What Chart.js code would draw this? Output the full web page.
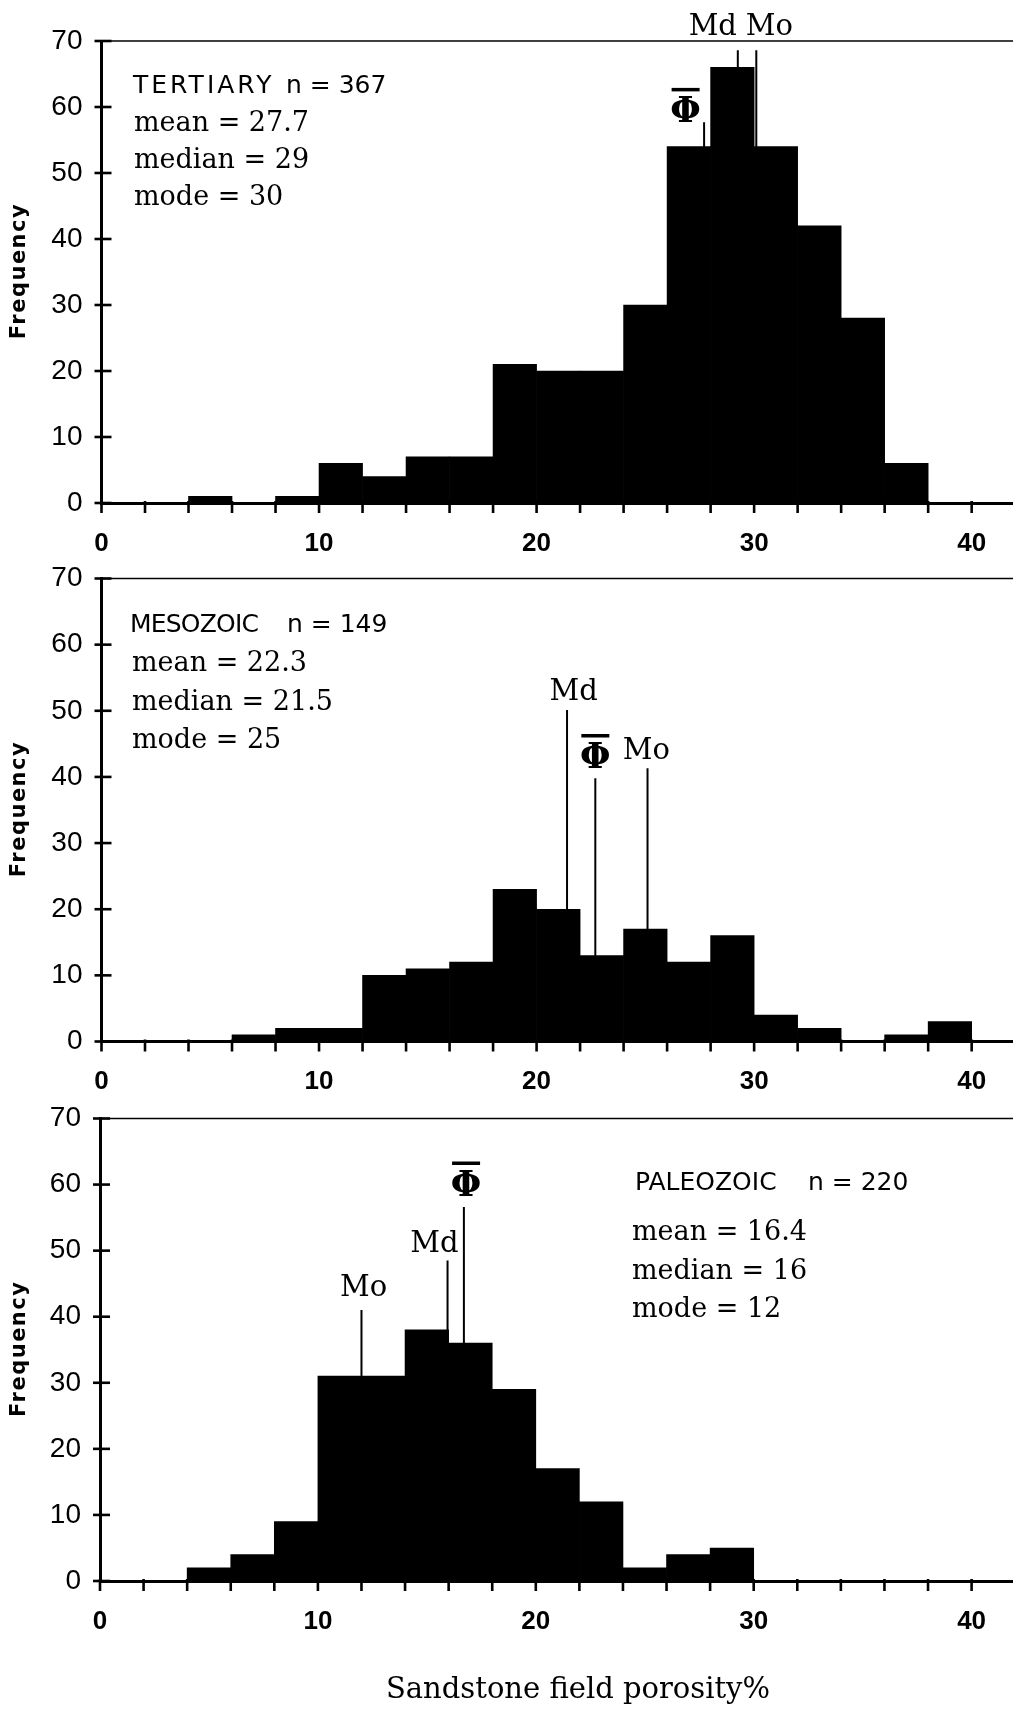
<!DOCTYPE html>
<html><head><meta charset="utf-8">
<script src="https://cdn.jsdelivr.net/npm/chart.js@4.4.1/dist/chart.umd.min.js"></script>
<style>
html,body{margin:0;padding:0;background:#fff;}
#wrap{position:relative;width:1013px;height:1712px;overflow:hidden;background:#fff;}
.pan{position:absolute;left:0;width:1013px;}
canvas{display:block;}
</style></head><body>
<div id="wrap">
<div class="pan" style="top:0;height:565px"><canvas id="c1" width="1013" height="565"></canvas></div>
<div class="pan" style="top:537px;height:563px"><canvas id="c2" width="1013" height="563"></canvas></div>
<div class="pan" style="top:1077px;height:635px"><canvas id="c3" width="1013" height="635"></canvas></div>
</div>
<script>
// ---- data ----
const binStarts = [0,2,4,6,8,10,12,14,16,18,20,22,24,26,28,30,32,34,36,38];
const binWidth = 2;
const tertiaryCounts  = [0,0,1,0,1,6,4,7,7,21,20,20,30,54,66,54,42,28,6,0];
const mesozoicCounts  = [0,0,0,1,2,2,10,11,12,23,20,13,17,12,16,4,2,0,1,3];
const paleozoicCounts = [0,0,2,4,9,31,31,38,36,29,17,12,2,4,5,0,0,0,0,0];
const xTickLabels = [0,10,20,30,40];
const yTickLabels = [0,10,20,30,40,50,60,70];

const tertiaryHeader = ['TERTIARY','n = 367'];
const tertiaryStats  = ['mean = 27.7','median = 29','mode = 30'];
const mesozoicHeader = ['MESOZOIC','n = 149'];
const mesozoicStats  = ['mean = 22.3','median = 21.5','mode = 25'];
const paleozoicHeader = ['PALEOZOIC','n = 220'];
const paleozoicStats  = ['mean = 16.4','median = 16','mode = 12'];

// marker lines: name, x value, top of line (frequency), label x, label y
const tertiaryMarkers = [
  {name:'Φ', x:27.7, top:57.7, lx:26.85, ly:59.6},
  {name:'Md', x:29.25, top:68.6, lx:28.1, ly:72.1},
  {name:'Mo', x:30.1, top:68.6, lx:30.7, ly:72.1}
];
const mesozoicMarkers = [
  {name:'Md', x:21.4, top:50.1, lx:21.7, ly:52.8},
  {name:'Φ', x:22.7, top:39.8, lx:22.7, ly:43.2},
  {name:'Mo', x:25.1, top:41.3, lx:25.05, ly:43.9}
];
const paleozoicMarkers = [
  {name:'Mo', x:12.0, top:41.0, lx:12.1, ly:44.3},
  {name:'Md', x:15.95, top:48.5, lx:15.35, ly:50.9},
  {name:'Φ', x:16.7, top:56.6, lx:16.8, ly:60.2}
];

const xTitle = 'Sandstone field porosity%';
const yTitle = 'Frequency';

// ---- drawing ----
const decor = {
  id:'decor',
  afterDraw(chart, args, o) {
    const ctx = chart.ctx, a = chart.chartArea, x = chart.scales.x, y = chart.scales.y;
    ctx.save();
    ctx.strokeStyle = '#000'; ctx.fillStyle = '#000';
    // top frame line
    ctx.lineWidth = 1.6;
    ctx.beginPath(); ctx.moveTo(a.left, a.top); ctx.lineTo(a.right, a.top); ctx.stroke();
    // tick marks
    ctx.lineWidth = 2.6;
    x.ticks.forEach(t => {
      const px = x.getPixelForValue(t.value);
      ctx.beginPath(); ctx.moveTo(px, a.bottom - 2); ctx.lineTo(px, a.bottom + 10); ctx.stroke();
    });
    y.ticks.forEach(t => {
      const py = y.getPixelForValue(t.value);
      ctx.beginPath(); ctx.moveTo(a.left - 7, py); ctx.lineTo(a.left + 10, py); ctx.stroke();
    });
    // marker lines and labels
    o.markers.forEach(m => {
      const px = x.getPixelForValue(m.x);
      ctx.lineWidth = 2;
      ctx.beginPath(); ctx.moveTo(px, y.getPixelForValue(m.top)); ctx.lineTo(px, y.getPixelForValue(0)); ctx.stroke();
      const lx = x.getPixelForValue(m.lx), ly = y.getPixelForValue(m.ly);
      ctx.textAlign = 'center';
      if (m.name === 'Φ') {
        ctx.font = 'bold 35px "DejaVu Serif"';
        ctx.textBaseline = 'alphabetic';
        ctx.fillText('Φ', lx, ly + 12.5);
        ctx.lineWidth = 3.5;
        ctx.beginPath(); ctx.moveTo(lx - 14, ly - 20); ctx.lineTo(lx + 14, ly - 20); ctx.stroke();
      } else {
        ctx.font = '29px "DejaVu Serif"';
        ctx.textBaseline = 'middle';
        ctx.fillText(m.name, lx, ly);
      }
    });
    // statistics block
    const s = o.stats;
    ctx.textAlign = 'left'; ctx.textBaseline = 'middle';
    ctx.font = '25px "DejaVu Sans"';
    ctx.letterSpacing = s.hs + 'px';
    ctx.fillText(s.header[0], s.hx, s.hy - o.top);
    ctx.letterSpacing = '0px';
    ctx.fillText(s.header[1], s.nx, s.hy - o.top);
    ctx.font = '27px "DejaVu Serif"';
    s.lines.forEach((t, i) => ctx.fillText(t, s.lx, s.ly[i] - o.top));
    // y axis title
    ctx.save();
    ctx.translate(20, (a.top + a.bottom) / 2);
    ctx.rotate(-Math.PI / 2);
    ctx.font = 'bold 21px "DejaVu Sans"';
    ctx.letterSpacing = '1.5px';
    ctx.textAlign = 'center'; ctx.textBaseline = 'middle';
    ctx.fillText(o.yTitle, 1, 0);
    ctx.restore();
    // x axis title (bottom panel only)
    if (o.xTitle) {
      ctx.font = '29px "DejaVu Serif"';
      ctx.textAlign = 'center'; ctx.textBaseline = 'middle';
      ctx.fillText(o.xTitle, 578, o.xTitleY - o.top);
    }
    ctx.restore();
  }
};

function makePanel(id, counts, g, markers, stats, withXTitle) {
  const pts = binStarts.map((s, i) => ({x: s + binWidth / 2, y: counts[i]}));
  return new Chart(document.getElementById(id), {
    type: 'bar',
    data: {datasets: [{data: pts, backgroundColor: '#000', borderWidth: 0,
      barPercentage: 1, categoryPercentage: 1}]},
    options: {
      responsive: false, animation: false, devicePixelRatio: 1,
      layout: {padding: {top: g.areaTop - g.top, left: 0, right: 0, bottom: 0}},
      scales: {
        x: {
          type: 'linear', min: 0, max: 41.9, offset: false,
          grid: {display: true, drawOnChartArea: false, drawTicks: false, color: 'rgba(0,0,0,0)'},
          border: {display: true, color: '#000', width: 3},
          ticks: {stepSize: 2, includeBounds: false, autoSkip: false, maxRotation: 0, padding: 25,
            color: '#000', font: {family: '"Liberation Sans"', size: 26, weight: 'bold'},
            callback: v => xTickLabels.includes(v) ? String(v) : ''},
          afterFit: sc => { sc.height = g.top + g.h - g.areaBottom; }
        },
        y: {
          min: 0, max: 70,
          grid: {display: true, drawOnChartArea: false, drawTicks: false, color: 'rgba(0,0,0,0)'},
          border: {display: true, color: '#000', width: 3},
          ticks: {stepSize: 10, padding: 19, color: '#000',
            font: {family: '"Liberation Sans"', size: 28},
            callback: v => yTickLabels.includes(v) ? String(v) : ''},
          afterFit: sc => { sc.width = g.left; }
        }
      },
      plugins: {
        legend: {display: false}, tooltip: {enabled: false},
        decor: {markers: markers, stats: stats, top: g.top, yTitle: yTitle,
          xTitle: withXTitle ? xTitle : null, xTitleY: 1690}
      }
    },
    plugins: [decor]
  });
}

makePanel('c1', tertiaryCounts, {top: 0, h: 565, areaTop: 41, areaBottom: 503, left: 101.5}, tertiaryMarkers,
  {header: tertiaryHeader, hs: 3, hx: 133, nx: 286, hy: 86, lines: tertiaryStats, lx: 134, ly: [124, 161, 198]}, false);
makePanel('c2', mesozoicCounts, {top: 537, h: 563, areaTop: 578.5, areaBottom: 1041.5, left: 101.5}, mesozoicMarkers,
  {header: mesozoicHeader, hs: -0.8, hx: 130, nx: 287, hy: 625, lines: mesozoicStats, lx: 132, ly: [664, 703, 741]}, false);
makePanel('c3', paleozoicCounts, {top: 1077, h: 635, areaTop: 1118.5, areaBottom: 1581, left: 100}, paleozoicMarkers,
  {header: paleozoicHeader, hs: 0, hx: 635, nx: 808, hy: 1183, lines: paleozoicStats, lx: 632, ly: [1233, 1272, 1310]}, true);
</script>
</body></html>
